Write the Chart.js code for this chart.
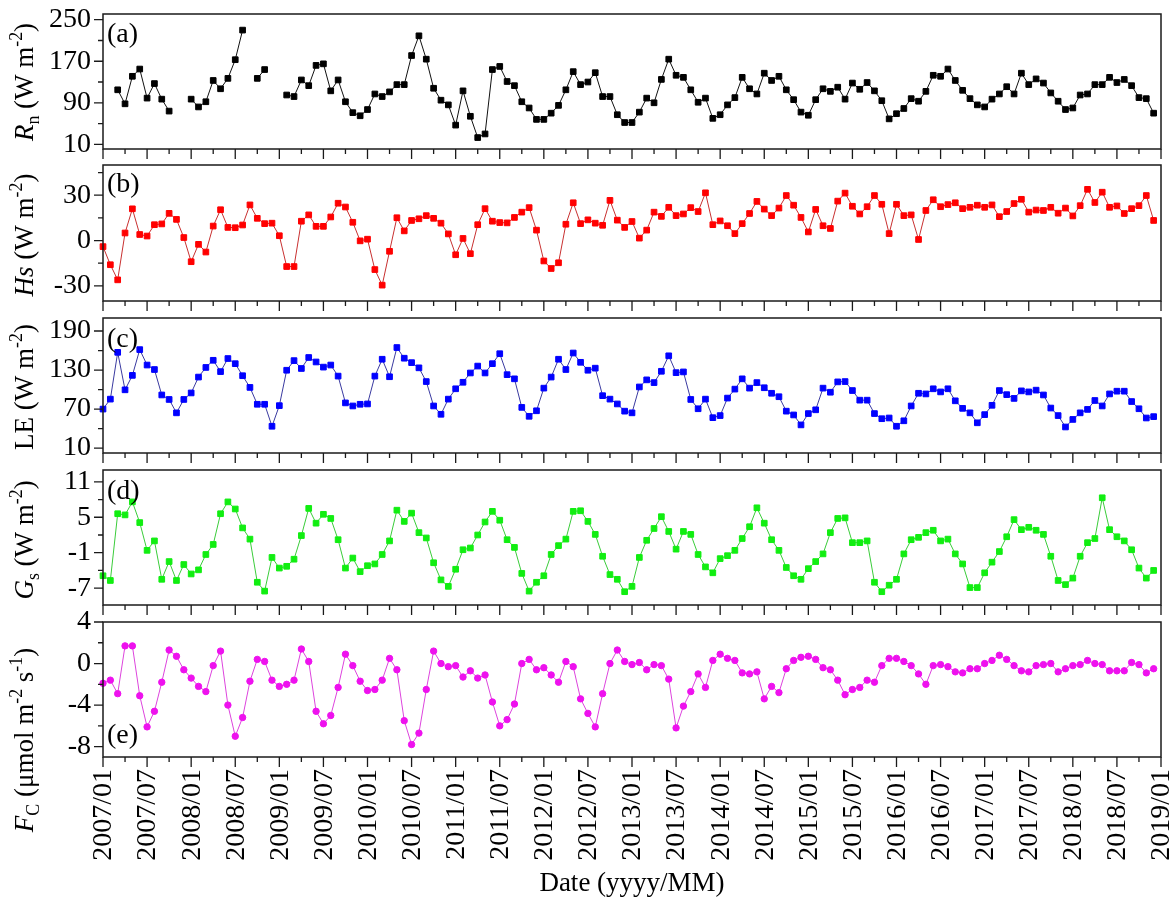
<!DOCTYPE html>
<html><head><meta charset="utf-8">
<script src="https://cdn.jsdelivr.net/npm/chart.js@4.4.0/dist/chart.umd.min.js"></script>
<style>
html,body{margin:0;padding:0;background:#fff;}
#wrap{position:relative;width:1176px;height:902px;background:#fff;}
canvas{position:absolute;left:0;top:0;}
</style></head><body><div id="wrap">
<canvas id="c0" width="1176" height="902"></canvas>
<canvas id="c1" width="1176" height="902"></canvas>
<canvas id="c2" width="1176" height="902"></canvas>
<canvas id="c3" width="1176" height="902"></canvas>
<canvas id="c4" width="1176" height="902"></canvas>
</div>
<script>
// ---- categories: month index since 2007/01 (0..143) ----
const monthIndex = Array.from({length:144},(_,i)=>i);
const xTickValues = [0,6,12,18,24,30,36,42,48,54,60,66,72,78,84,90,96,102,108,114,120,126,132,138,144];
const xTickLabels = ['2007/01','2007/07','2008/01','2008/07','2009/01','2009/07','2010/01','2010/07','2011/01','2011/07','2012/01','2012/07','2013/01','2013/07','2014/01','2014/07','2015/01','2015/07','2016/01','2016/07','2017/01','2017/07','2018/01','2018/07','2019/01'];
const xMinorValues = [3,9,15,21,27,33,39,45,51,57,63,69,75,81,87,93,99,105,111,117,123,129,135,141];

// ---- series ----
const rn = [null,null,115,88,141,155,99,127,97,74,null,null,
97,82,92,133,117,137,173,230,null,137,154,null,
null,105,102,134,123,162,165,113,134,92,71,65,
77,107,102,111,125,125,181,219,174,118,95,86,
47,113,64,23,30,154,160,131,123,92,80,58,
58,70,85,115,150,125,130,148,102,102,67,52,
52,72,99,90,135,174,143,139,115,91,99,60,
67,86,100,139,117,107,147,133,141,115,96,72,
66,96,117,112,120,97,128,116,129,113,94,59,
69,79,98,93,112,143,141,155,133,114,98,86,
82,97,107,121,107,147,125,136,128,109,93,77,
80,105,107,125,125,139,129,135,123,100,98,70];
const hs = [-4,-16,-26,5,21,4,3,10.5,11,18,14,2,
-14,-2.5,-7.6,9.6,20.4,8.7,8.5,10.3,23.6,14.7,11.2,11.5,
3.2,-17.2,-17.2,12.8,17,9.4,9.4,15.6,24.7,22.2,12.1,-0.2,
0.9,-19.2,-29.5,-7.1,15.1,6.4,13.3,14.4,16.5,14.7,11.5,4.4,
-9.4,1.4,-8.7,10.5,21.1,12.8,11.9,11.7,15.3,18.8,21.8,6.9,
-13.5,-18.5,-14.7,10.8,25,11.2,13.7,11.5,10.1,26.6,13.5,8.7,
12.6,1.6,6.9,18.8,16,22,16.5,17.6,21.8,19.2,31.6,10.5,
13,9.8,4.6,11.2,17.9,25.9,20.8,16.5,21.5,29.8,23.4,15.3,
5.7,20.6,9.8,8,26.1,31.4,22.7,17.6,22.4,29.8,24,4.6,
24,16.5,17,0.7,19.9,27,22.4,23.8,25,21.1,22,23.4,
22,23.6,15.8,19.2,24.5,27.3,18.8,20.2,19.9,22,18.1,21.5,
16.3,23.1,33.9,25.2,32,22,22.9,17.9,21.1,23.1,29.8,13.3];
const le = [70,85.3,157.2,99.6,121.8,161.4,137.7,130.8,91.7,84.8,64.2,84.8,
94.8,119.2,134,145,127.6,147.7,139.8,121.3,103.3,77.4,77.4,43.6,
75.3,129.7,144.5,132.4,149.3,142.4,134.5,137.7,120.7,79.5,74.8,77.4,
77.9,120.7,146.6,119.7,164.6,148.2,141.4,133.4,112.3,74.8,62,85.3,
101.2,111.2,125.5,136.1,125.5,139.8,155.1,122.9,116.5,72.6,58.9,67.4,
102.2,119.2,146.6,130.8,156.2,141.9,129.7,132.9,90.6,85.3,77.9,66.8,
64.2,104,114.9,110.7,128.1,151.9,126,127.1,84.8,70.5,85.3,56.8,
60,86.9,100.7,116.5,102.2,110.7,102.8,94.3,89,66.8,61,45.7,
63.1,68.9,102.2,95.9,111.8,112.3,98.5,83.7,83.7,63.1,55.2,56.3,
43.6,52,74.8,94.3,93.3,101.2,96.4,101.2,82.7,71.1,64.2,48.9,
61.5,75.8,98.5,92.2,86.4,98,96.4,99.1,91.7,71.6,60,42.5,
54.1,64.2,69.5,83.2,74.8,93.3,97.5,97.5,81.6,70.5,56.3,58.4];
const gs = [-4.9,-5.7,5.6,5.4,7.6,4.1,-0.6,1.0,-5.5,-2.5,-5.7,-3,
-4.6,-3.9,-1.3,0.4,5.6,7.6,6.4,3.2,1.3,-6,-7.5,-1.8,
-3.6,-3.3,-2.1,1.9,6.5,4,5.5,4.8,1.2,-3.6,-1.9,-4.2,
-3.2,-2.9,-1.3,1.0,6.2,4.3,5.7,2.4,1.5,-2.7,-5.6,-6.7,
-3.8,-0.5,-0.2,2.0,4.2,6.0,4.5,1.2,-0.1,-4.5,-7.5,-6,
-4.9,-1.3,0.2,1.3,6.0,6.1,4.3,2.1,-1.6,-4.7,-5.5,-7.6,
-6.7,-1.8,1.1,3.1,5.1,2.6,-0.4,2.6,2.1,-1.3,-3.4,-4.4,
-2,-1.5,-0.6,1.4,3.4,6.6,4,1.2,-0.6,-3.5,-4.9,-5.5,
-3.7,-2.5,-1.2,2.4,4.8,4.9,0.7,0.7,1.0,-6,-7.6,-6.5,
-5.5,-1.2,1.2,1.6,2.4,2.8,1.0,1.3,-1.2,-2.9,-6.9,-6.9,
-4.4,-2.6,-0.8,1.7,4.6,2.9,3.3,2.8,2.1,-1.6,-5.7,-6.4,
-5.3,-1.6,0.7,1.4,8.3,2.9,1.7,1.0,-0.5,-3.6,-5.3,-4.0];
const fc = [-1.9,-1.6,-2.9,1.7,1.7,-3.1,-6.1,-4.6,-1.8,1.3,0.7,-0.6,
-1.4,-2.2,-2.7,-0.2,1.2,-4,-7,-5.2,-1.7,0.4,0.2,-1.6,
-2.2,-2,-1.6,1.4,0.2,-4.6,-5.8,-5,-2.3,0.9,-0.2,-1.7,
-2.6,-2.5,-1.6,0.5,-0.6,-5.5,-7.8,-6.7,-2.5,1.2,0,-0.3,
-0.2,-1.3,-0.7,-1.4,-1.1,-3.7,-6,-5.4,-3.9,0,0.4,-0.6,
-0.4,-1.1,-1.8,0.2,-0.3,-3.4,-4.8,-6.1,-2.9,0,1.3,0.2,
-0.1,0.1,-0.6,-0.1,-0.2,-1.5,-6.2,-4.1,-2.7,-1,-2.3,0.3,
0.9,0.5,0.3,-0.9,-1,-0.8,-3.4,-2.2,-2.8,-0.5,0.3,0.6,
0.7,0.4,-0.4,-0.6,-1.6,-3,-2.5,-2.3,-1.6,-1.8,-0.2,0.5,
0.5,0.2,-0.2,-1,-2,-0.2,-0.1,-0.3,-0.8,-0.9,-0.5,-0.5,
0,0.3,0.8,0.4,-0.2,-0.7,-0.8,-0.2,-0.1,0,-0.8,-0.5,
-0.2,-0.1,0.3,0,-0.1,-0.7,-0.7,-0.7,0.1,-0.1,-0.9,-0.5];

// ---- y tick labels (major) and minor ticks ----
const rnTicks = [10,90,170,250],  rnMinor = [50,130,210];
const hsTicks = [-30,0,30],       hsMinor = [-15,15,45];
const leTicks = [10,70,130,190],  leMinor = [40,100,160];
const gsTicks = [-7,-1,5,11],     gsMinor = [-4,2,8];
const fcTicks = [-8,-4,0,4],      fcMinor = [-6,-2,2];

const FONT = "'Liberation Serif','Times New Roman',serif";

const panels = [
  {id:'c0', data:rn, top:14, bottom:149, min:1, max:261, major:rnTicks, minor:rnMinor,
   fill:'#000000', line:'#111111', style:'rect', r:4, label:'(a)', labelY:42,
   title:[['R','i'],['n','sub'],[' (W m','n'],['-2','sup'],[')','n']], titleCy:82},
  {id:'c1', data:hs, top:165, bottom:301, min:-40, max:50, major:hsTicks, minor:hsMinor,
   fill:'#ff0000', line:'#c83030', style:'rect', r:4, label:'(b)', labelY:192,
   title:[['Hs','i'],[' (W m','n'],['-2','sup'],[')','n']], titleCy:235},
  {id:'c2', data:le, top:318, bottom:453, min:2.5, max:210, major:leTicks, minor:leMinor,
   fill:'#0000ff', line:'#3a3aa0', style:'rect', r:4, label:'(c)', labelY:347,
   title:[['LE (W m','n'],['-2','sup'],[')','n']], titleCy:387},
  {id:'c3', data:gs, top:470, bottom:605, min:-9.85, max:13, major:gsTicks, minor:gsMinor,
   fill:'#11ee11', line:'#3acc3a', style:'rect', r:4, label:'(d)', labelY:499,
   title:[['G','i'],['s','sub'],[' (W m','n'],['-2','sup'],[')','n']], titleCy:540},
  {id:'c4', data:fc, top:622, bottom:757, min:-9, max:4, major:fcTicks, minor:fcMinor,
   fill:'#ee11ee', line:'#dd44dd', style:'circle', r:3.2, label:'(e)', labelY:743,
   title:[['F','i'],['C','sub'],[' (\u03bcmol m','n'],['-2','sup'],[' s','n'],['-1','sup'],[')','n']], titleCy:740}
];

function drawRich(ctx, segs, cx, cy, size){
  ctx.save();
  ctx.translate(cx, cy);
  ctx.rotate(-Math.PI/2);
  ctx.textBaseline = 'alphabetic';
  ctx.textAlign = 'left';
  const specs = segs.map(([t,s])=>{
    const small = (s==='sub'||s==='sup');
    const fs = small ? size*0.66 : size;
    const font = (s==='i'?'italic ':'') + fs + 'px ' + FONT;
    ctx.font = font;
    return {t, font, w: ctx.measureText(t).width, dy: s==='sub'? size*0.22 : (s==='sup'? -size*0.40 : 0)};
  });
  const total = specs.reduce((a,b)=>a+b.w,0);
  let xx = -total/2;
  specs.forEach(sp=>{ ctx.font = sp.font; ctx.fillStyle='#000'; ctx.fillText(sp.t, xx, sp.dy); xx += sp.w; });
  ctx.restore();
}

function panelPlugin(p, isLast){
  return {
    id: 'panelDeco',
    afterDraw(chart){
      const ctx = chart.ctx, a = chart.chartArea, xs = chart.scales.x, ys = chart.scales.y;
      ctx.save();
      ctx.strokeStyle = '#1a1a1a';
      ctx.lineWidth = 1.5;
      ctx.strokeRect(a.left, a.top, a.right - a.left, a.bottom - a.top);
      ctx.lineWidth = 1.3;
      ctx.beginPath();
      xTickValues.forEach(v=>{ const px = xs.getPixelForValue(v); ctx.moveTo(px, a.bottom); ctx.lineTo(px, a.bottom + 10); });
      xMinorValues.forEach(v=>{ const px = xs.getPixelForValue(v); ctx.moveTo(px, a.bottom); ctx.lineTo(px, a.bottom + 5); });
      p.major.forEach(v=>{ const py = ys.getPixelForValue(v); ctx.moveTo(a.left - 9, py); ctx.lineTo(a.left, py); });
      p.minor.forEach(v=>{ const py = ys.getPixelForValue(v); ctx.moveTo(a.left - 5, py); ctx.lineTo(a.left, py); });
      ctx.stroke();
      // panel letter
      ctx.fillStyle = '#000';
      ctx.font = '28px ' + FONT;
      ctx.textAlign = 'left';
      ctx.textBaseline = 'alphabetic';
      ctx.fillText(p.label, a.left + 4, p.labelY);
      // y title
      drawRich(ctx, p.title, 33, p.titleCy, 27);
      if (isLast){
        ctx.font = '28px ' + FONT;
        ctx.fillStyle = '#000';
        xTickValues.forEach((v,i)=>{
          const px = xs.getPixelForValue(v);
          ctx.save();
          ctx.translate(px, a.bottom + 12);
          ctx.rotate(-Math.PI/2);
          ctx.textAlign = 'right';
          ctx.textBaseline = 'middle';
          ctx.fillText(xTickLabels[i], 0, 1);
          ctx.restore();
        });
        ctx.font = '27px ' + FONT;
        ctx.textAlign = 'center';
        ctx.textBaseline = 'middle';
        ctx.fillText('Date (yyyy/MM)', (a.left + a.right)/2, 884);
      }
      ctx.restore();
    }
  };
}

panels.forEach((p,i)=>{
  const isLast = (i === panels.length - 1);
  new Chart(document.getElementById(p.id), {
    type: 'line',
    data: {
      datasets: [{
        data: monthIndex.map((m,k)=>({x:m, y:p.data[k]})),
        borderColor: p.line,
        borderWidth: 1,
        pointStyle: p.style,
        pointRadius: p.r,
        pointBackgroundColor: p.fill,
        pointBorderColor: p.fill,
        pointBorderWidth: 1,
        tension: 0,
        spanGaps: false,
        clip: false
      }]
    },
    options: {
      responsive: false,
      animation: false,
      devicePixelRatio: 1,
      events: [],
      layout: { padding: { left: 43, right: 15, top: p.top, bottom: 902 - p.bottom } },
      plugins: { legend: {display:false}, tooltip: {enabled:false}, title:{display:false} },
      scales: {
        x: { type:'linear', min:0, max:144, display:false },
        y: {
          type:'linear', min:p.min, max:p.max,
          afterBuildTicks: s => { s.ticks = p.major.map(v=>({value:v})); },
          afterFit: s => { s.width = 60; s.paddingTop = 0; s.paddingBottom = 0; s.paddingLeft = 0; s.paddingRight = 0; },
          grid: { display:false, drawTicks:false },
          border: { display:false },
          ticks: { padding: 12, color:'#000', font:{family:FONT, size:28}, callback: v => String(v) }
        }
      }
    },
    plugins: [panelPlugin(p, isLast)]
  });
});
</script>
</body></html>
